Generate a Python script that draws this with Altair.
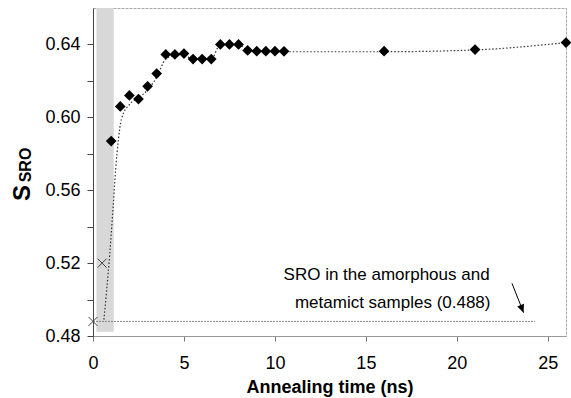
import altair as alt
import pandas as pd

# Data
t_pts = [1.0, 1.5, 2.0, 2.5, 3.0, 3.5, 4.0, 4.5, 5.0, 5.5, 6.0, 6.5, 7.0, 7.5,
         8.0, 8.5, 9.0, 9.5, 10.0, 10.5, 16.0, 21.0, 26.0]
s_pts = [0.587, 0.606, 0.612, 0.610, 0.617, 0.624, 0.6345, 0.6345, 0.635, 0.632,
         0.632, 0.632, 0.640, 0.640, 0.640, 0.6367, 0.6363, 0.6363, 0.6363, 0.6362,
         0.6363, 0.6372, 0.641]

fit_t = [0.6, 0.75, 0.92, 1.1, 1.25, 1.4, 1.56, 2.0, 2.55, 3.0, 3.5, 4.0, 4.5,
         5.0, 5.5, 6.5, 7.0, 8.0, 8.5, 10.5, 16.0, 21.0, 26.0]
fit_s = [0.489, 0.505, 0.525, 0.550, 0.572, 0.588, 0.599, 0.607, 0.611, 0.615,
         0.622, 0.632, 0.634, 0.634, 0.632, 0.632, 0.640, 0.640, 0.637, 0.636,
         0.636, 0.637, 0.641]

cross_t = [0.0, 0.5]
cross_s = [0.488, 0.520]

ref_t = [0.0, 24.3]
ref_s = [0.488, 0.488]

band_t = [0.19, 1.14]
band_s = [0.4823, 0.66]

note_lines = ["SRO in the amorphous and", "metamict samples (0.488)"]
note_t = [21.8, 21.85]
note_s = [0.5110, 0.4955]

arrow_t = [23.03, 23.67]
arrow_s = [0.5089, 0.4928]

y_ticks = [0.48, 0.50, 0.52, 0.54, 0.56, 0.58, 0.60, 0.62, 0.64]
x_ticks = [0, 5, 10, 15, 20, 25]

FONT = "Liberation Sans"

pts = pd.DataFrame({"t": t_pts, "s": s_pts})
fit = pd.DataFrame({"t": fit_t, "s": fit_s})
crosses = pd.DataFrame({"t": cross_t, "s": cross_s})
ref = pd.DataFrame({"t": ref_t, "s": ref_s})
band = pd.DataFrame({"t": [band_t[0]], "t2": [band_t[1]], "s": [band_s[0]], "s2": [band_s[1]]})
notes = pd.DataFrame({"t": note_t, "s": note_s, "label": note_lines})
arrow = pd.DataFrame({"t": [arrow_t[0]], "t2": [arrow_t[1]], "s": [arrow_s[0]], "s2": [arrow_s[1]]})
head = pd.DataFrame({"t": [arrow_t[1]], "s": [arrow_s[1]]})

xscale = alt.Scale(domain=[0, 26], nice=False)
yscale = alt.Scale(domain=[0.48, 0.66], nice=False, zero=False)

x_enc = alt.X("t:Q", scale=xscale, axis=alt.Axis(
    values=x_ticks, title="Annealing time (ns)", grid=False, labelFontSize=18,
    titleFontSize=18, titleFontWeight="bold", labelFont=FONT, titleFont=FONT,
    tickSize=5, labelPadding=13, titlePadding=6, domainColor="#999999",
    tickColor="#777777", labelColor="#000000", titleColor="#000000", labelFlush=False))
y_enc = alt.Y("s:Q", scale=yscale, axis=alt.Axis(
    values=y_ticks, title=None, grid=False, labelFontSize=18, labelFont=FONT,
    labelExpr="indexof(['0.48','0.52','0.56','0.60','0.64'], format(datum.value, '.2f')) >= 0 ? format(datum.value, '.2f') : ''",
    tickSize=6, labelPadding=7, domainColor="#444444", tickColor="#444444",
    labelColor="#000000", labelFlush=False))

band_layer = alt.Chart(band).mark_rect(color="#d8d8d8", opacity=1).encode(
    x=x_enc, x2="t2:Q", y=y_enc, y2="s2:Q")

ref_layer = alt.Chart(ref).mark_line(color="#888888", strokeDash=[2, 1], strokeWidth=1).encode(
    x="t:Q", y="s:Q")

fit_layer = alt.Chart(fit).mark_line(color="#333333", strokeDash=[1.5, 2], strokeWidth=1.2,
                                     interpolate="monotone").encode(x="t:Q", y="s:Q")

pts_layer = alt.Chart(pts).mark_point(shape="diamond", filled=True, color="#000000",
                                      size=115, opacity=1).encode(x="t:Q", y="s:Q")

cross_layer = alt.Chart(crosses).mark_point(shape="M-1,-1L1,1M-1,1L1,-1", filled=False,
                                            color="#444444", size=80, strokeWidth=1,
                                            opacity=1).encode(x="t:Q", y="s:Q")

note_layer = alt.Chart(notes).mark_text(align="right", baseline="alphabetic", fontSize=17,
                                        font=FONT, color="#000000").encode(
    x="t:Q", y="s:Q", text="label:N")

arrow_layer = alt.Chart(arrow).mark_rule(color="#000000", strokeWidth=1).encode(
    x="t:Q", x2="t2:Q", y="s:Q", y2="s2:Q")

head_layer = alt.Chart(head).mark_point(shape="M0,0L-0.45,-1L0.45,-1Z", filled=True,
                                        color="#000000", size=260, angle=338,
                                        opacity=1).encode(x="t:Q", y="s:Q")

ytitle_s = alt.Chart(pd.DataFrame({"a": [0]})).mark_text(
    text="S", angle=270, fontSize=24, fontWeight="bold", font=FONT, color="#000000",
    align="center", baseline="middle").encode(x=alt.value(-70), y=alt.value(185))
ytitle_sub = alt.Chart(pd.DataFrame({"a": [0]})).mark_text(
    text="SRO", angle=270, fontSize=16, fontWeight="bold", font=FONT, color="#000000",
    align="center", baseline="middle").encode(x=alt.value(-67), y=alt.value(157))

chart = alt.layer(band_layer, ref_layer, fit_layer, pts_layer, cross_layer,
                  note_layer, arrow_layer, head_layer, ytitle_s, ytitle_sub).properties(
    width=473, height=328,
    autosize=alt.AutoSizeParams(type="none"),
    padding={"left": 93, "top": 8, "right": 5, "bottom": 62},
    background="#ffffff",
).configure_view(stroke="#aaaaaa", strokeDash=[3, 1], strokeWidth=1)

chart.save("out.html", embed_options={"renderer": "svg", "actions": False})
